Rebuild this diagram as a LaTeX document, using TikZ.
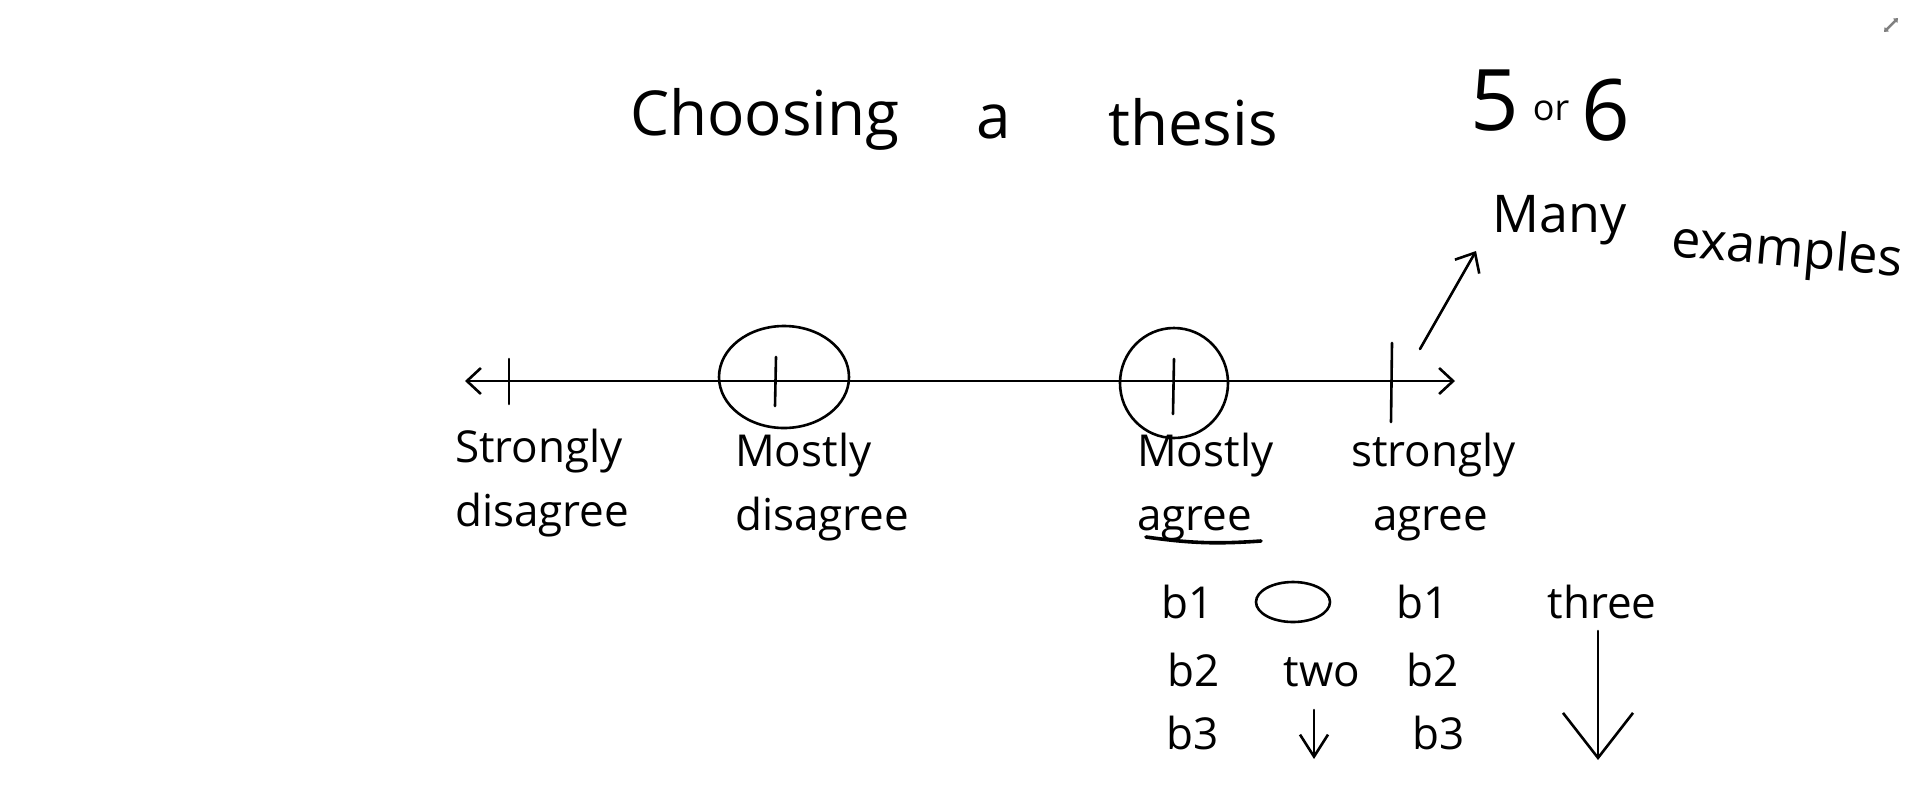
\documentclass[tikz,border=0pt]{standalone}
\usepackage{fontspec}
\setmainfont{Open Sans}
\usetikzlibrary{arrows.meta,shapes.geometric}
\tikzset{
  ink/.style={line width=2.6pt, line cap=round, line join=round},
  hw/.style={inner sep=0pt, font=\fontsize{44}{64}\selectfont, align=left},
  big/.style={inner sep=0pt, font=\fontsize{62}{70}\selectfont},
  mid/.style={inner sep=0pt, font=\fontsize{52}{60}\selectfont},
  barb/.style={-{Straight Barb[length=16pt,width=28pt,line width=2.6pt]}},
}
\begin{document}
\begin{tikzpicture}[x=1pt,y=-1pt]
\useasboundingbox[fill=white] (0,0) rectangle (1920,807);

% title
\node[big, anchor=base west] (t1) at (630,135) {Choosing};
\node[big, anchor=base west] (t2) at (976,138) {a};
\node[big, anchor=base west] (t3) at (1108,145) {thesis};

% 5 or 6
\node[inner sep=0pt, anchor=base west] (fs) at (1470,130)
  {\fontsize{85}{90}\selectfont 5\hspace{14pt}\raisebox{10pt}{\fontsize{36}{40}\selectfont or}\hspace{12pt}\raisebox{-10pt}{6}};

% many examples
\node[mid, anchor=base west] (me1) at (1492,232) {Many};
\node[mid, anchor=base west, rotate=-5] (me2) at (1670,256) {examples};

% number line
\coordinate (L) at (465,381);
\coordinate (R) at (1455,381);
\draw[ink, {Straight Barb[length=14pt,width=26pt,line width=2.6pt]}-{Straight Barb[length=14pt,width=26pt,line width=2.6pt]}] (L) -- (R);

% ticks
\coordinate (k1a) at (509,359); \coordinate (k1b) at (509,404);
\coordinate (k2a) at (776,357); \coordinate (k2b) at (775,406);
\coordinate (k3a) at (1174,359); \coordinate (k3b) at (1173,414);
\coordinate (k4a) at (1392,343); \coordinate (k4b) at (1391,422);
\draw[ink] (k1a) -- (k1b);
\draw[ink] (k2a) -- (k2b);
\draw[ink] (k3a) -- (k3b);
\draw[ink] (k4a) -- (k4b);

% circles
\node[ink, draw, ellipse, inner sep=0pt, minimum width=130pt, minimum height=102pt] (c1) at (784,377) {};
\node[ink, draw, ellipse, inner sep=0pt, minimum width=108pt, minimum height=110pt] (c2) at (1174,383) {};

% labels
\node[hw, anchor=north west] (sd) at (455,429) {Strongly\\disagree};
\node[hw, anchor=north west] (md) at (735,433) {Mostly\\disagree};
\node[hw, anchor=north west] (ma) at (1137,433) {Mostly\\agree};
\node[hw, anchor=north west] (sa) at (1351,433) {strongly\\\hspace{22pt}agree};

% underline of agree
\coordinate (u1) at (1146,537);
\coordinate (u2) at (1261,541);
\draw[ink, line width=3.6pt] (u1) to[bend right=6] (u2);

% arrow to many examples
\coordinate (a0) at (1420,349);
\coordinate (a1) at (1476,251);
\draw[ink, barb] (a0) -- (a1);

% rows
\node[hw, anchor=base] (r1a) at (1188,618) {b1};
\node[ink, draw, ellipse, inner sep=0pt, minimum width=74pt, minimum height=40pt] (r1o) at (1293,602) {};
\node[hw, anchor=base] (r1c) at (1423,618) {b1};
\node[hw, anchor=base] (r1d) at (1602,618) {three};

\node[hw, anchor=base] (r2a) at (1194,686) {b2};
\node[hw, anchor=base] (r2b) at (1322,686) {two};
\node[hw, anchor=base] (r2c) at (1433,686) {b2};

\node[hw, anchor=base] (r3a) at (1193,749) {b3};
\node[hw, anchor=base] (r3c) at (1439,749) {b3};

% small down arrow
\coordinate (s0) at (1314,710);
\coordinate (s1) at (1314,759);
\draw[ink, -{Straight Barb[length=22pt,width=28pt,line width=2.6pt]}] (s0) -- (s1);

% big down arrow
\coordinate (b0) at (1598,631);
\coordinate (b1) at (1598,760);
\draw[ink, -{Straight Barb[length=45pt,width=70pt,line width=2.6pt]}] (b0) -- (b1);

% expand icon
\coordinate (e0) at (1884,32);
\coordinate (e1) at (1898,18);
\draw[gray, line width=2.5pt, {Triangle[length=4pt,width=6pt]}-{Triangle[length=4pt,width=6pt]}] (e0) -- (e1);
\end{tikzpicture}
\end{document}
